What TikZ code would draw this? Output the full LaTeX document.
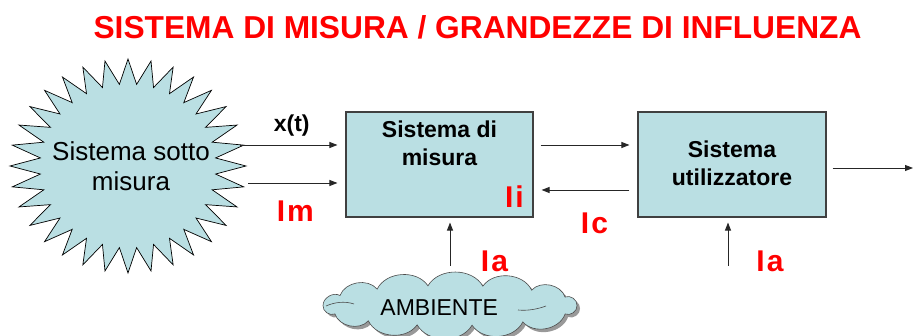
\documentclass[tikz,border=0pt]{standalone}
\usepackage{fontspec}
\setmainfont{Liberation Sans}
\usetikzlibrary{arrows.meta}
\definecolor{skyfill}{RGB}{186,223,227}
\definecolor{redlbl}{RGB}{255,0,0}
\def\ambcloudpath{(0:127pt and 20pt) foreach \a in {25,50,75,100,125,150,180,205,230,255,280,305,335} {to[bend right=60] (\a:127pt and 20pt)} to[bend right=60] cycle}
\begin{document}
\begin{tikzpicture}[x=1pt,y=-1pt,
  box/.style={draw=black!75, line width=1.1pt, fill=skyfill, minimum height=105pt, inner sep=0pt},
  arr/.style={draw=black!85, line width=0.9pt, -{Triangle[length=8pt,width=6pt]}},
  lbl/.style={text=redlbl, font=\bfseries\fontsize{30}{32}\selectfont, anchor=base, inner sep=0pt},
  btxt/.style={font=\bfseries\fontsize{23}{28}\selectfont, align=center, inner sep=0pt},
  startxt/.style={font=\fontsize{26}{29.5}\selectfont, align=center, inner sep=0pt},
  starshape/.style={draw=black, line width=0.7pt, fill=skyfill, line join=miter},
  cloudline/.style={draw=black!70, line width=0.6pt},
]
\useasboundingbox (0,0) rectangle (914,336);

% title
\node[anchor=base, text=redlbl, font=\bfseries\fontsize{31.7}{34}\selectfont, inner sep=0pt] (title) at (477.5,38.3) {SISTEMA DI MISURA / GRANDEZZE DI INFLUENZA};

% starburst
\draw[starshape] plot[samples=64, domain=0:63, variable=\k]
  ({128+(103+15*cos(\k*180))*cos(\k*5.625+90)}, {166+(94.5+12.5*cos(\k*180))*sin(\k*5.625+90)}) -- cycle;
\node[startxt] (sun) at (131,166) {Sistema sotto\\misura};

% boxes
\node[box, minimum width=187pt] (b1) at (439.5,164.5) {};
\node[btxt] (b1t) at (439.5,143) {Sistema di\\misura};
\node[box, minimum width=188pt] (b2) at (732,164.5) {};
\node[btxt] (b2t) at (732,163.5) {Sistema\\utilizzatore};

% cloud (shadow, then cloud)
\fill[black!40, shift={(453,308.5)}] \ambcloudpath;
\filldraw[cloudline, fill=skyfill, shift={(450,305.5)}] \ambcloudpath;
\draw[cloudline] (326,306) .. controls (335,302) and (345,301) .. (354,304);
\draw[cloudline] (518,310) .. controls (528,311) and (538,309) .. (546,306);
\node[font=\fontsize{23}{26}\selectfont, inner sep=0pt] (amb) at (439.2,307.5) {AMBIENTE};

% free ends
\coordinate (sA) at (240,145);
\coordinate (sB) at (248,183);
\coordinate (iaA) at (450,266);
\coordinate (iaB) at (728,266);
\coordinate (outend) at (913,168);

% connectors
\draw[arr] (sA) -- ([shift={(-8,-19.5)}]b1.west);
\draw[arr] (sB) -- ([shift={(-8,18.5)}]b1.west);
\draw[arr] ([shift={(7,-19.5)}]b1.east) -- ([shift={(-8,-19.5)}]b2.west);
\draw[arr] ([shift={(-8,25.5)}]b2.west) -- ([shift={(8,25.5)}]b1.east);
\draw[arr] ([shift={(6,3.5)}]b2.east) -- (outend);
\draw[arr] (iaA) -- ([shift={(10.5,5)}]b1.south);
\draw[arr] (iaB) -- ([shift={(-4,5)}]b2.south);

% labels
\node[anchor=base, font=\bfseries\fontsize{23}{26}\selectfont, inner sep=0pt] (xt) at (291.7,131.7) {x(t)};
\node[lbl] (im) at (295.3,221.7) {I\hspace{2pt}m};
\node[lbl] (ii) at (514.5,207.7) {I\hspace{2pt}i};
\node[lbl] (ic) at (594.5,233.3) {I\hspace{2pt}c};
\node[lbl] (iaa) at (494.5,271.7) {I\hspace{2pt}a};
\node[lbl] (iab) at (770,271.7) {I\hspace{2pt}a};
\end{tikzpicture}
\end{document}
